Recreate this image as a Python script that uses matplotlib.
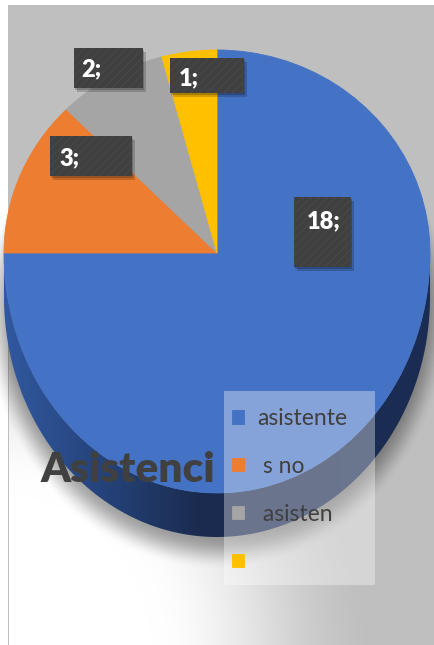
import numpy as np
import matplotlib
matplotlib.use('Agg')
import matplotlib.pyplot as plt
from matplotlib.patches import Rectangle, Polygon
from matplotlib.colors import to_rgb

# ---------------- data ----------------
categories = ['asistente', ' s no', ' asisten', '']
values = [18, 3, 2, 1]
colors = ['#4472c4', '#ed7d31', '#a5a5a5', '#ffc000']
value_labels = [f'{v};' for v in values]
title_text = 'Asistenci'

# ---------------- layout ----------------
W, H = 435, 645
cx, cy, R = 217, 253, 213          # pie centre / horizontal radius (px)
R_UP, R_DOWN, DEPTH = 203, 240, 44  # perspective of the 3-D pie
label_boxes = [(294, 197, 57, 70), (50, 136, 82, 40), (74, 48, 69, 40), (170, 58, 74, 35)]
label_text_pos = [(307, 221), (59, 158), (81, 69), (179, 78)]
legend_box = (224, 391, 151, 194)

plt.rcParams['font.family'] = ['Lato', 'DejaVu Sans']
plt.rcParams['hatch.linewidth'] = 0.7

fig = plt.figure(figsize=(W / 100, H / 100), dpi=100)
ax = fig.add_axes([0, 0, 1, 1])
ax.set_xlim(0, W)
ax.set_ylim(H, 0)
ax.axis('off')

# ---------------- background ----------------
yy, xx = np.mgrid[0:H, 0:W] + 0.5
d = np.hypot(xx, (yy - H))
t = np.clip((d - 150) / (380 - 150), 0, 1)
t = t * t * (3 - 2 * t)
bg = 255 - t * (255 - 191)
bg[:, 8] = np.minimum(bg[:, 8], 190)
bg[(xx < 8) | (yy < 5)] = 255
bg_rgb = np.dstack([bg, bg, bg]) / 255.0
ax.imshow(bg_rgb, extent=[0, W, H, 0], zorder=0, interpolation='bilinear')

# soft shadow of the pie
sx, sy = cx, cy + DEPTH + 9
yr = yy - sy
ry = np.where(yr < 0, R_UP, R_DOWN)
rn = np.hypot((xx - sx) / R, yr / ry)
s = np.clip((rn - 0.96) / 0.14, 0, 1)
s = 1 - s * s * (3 - 2 * s)
shadow = np.zeros((H, W, 4))
shadow[..., 3] = 0.36 * s
ax.imshow(shadow, extent=[0, W, H, 0], zorder=1, interpolation='bilinear')


def warp(v):
    v = np.array(v, dtype=float)
    r = v[:, 1] - cy
    v[:, 1] = cy + np.where(r < 0, r * R_UP / R, r * R_DOWN / R)
    return v

# ---------------- pie side (depth) ----------------
th = np.linspace(0, np.pi, 200)
top_edge = np.column_stack([cx + R * np.cos(th), cy + R_DOWN * np.sin(th)])
bot_edge = np.column_stack([cx + R * np.cos(th[::-1]), cy + DEPTH + R_DOWN * np.sin(th[::-1])])
side_poly = Polygon(np.vstack([top_edge, bot_edge]), closed=True, facecolor='none', edgecolor='none')
ax.add_patch(side_poly)
gx = np.array([0, 4, 120, 200, 435])
gc = np.array([to_rgb('#3159a0'), to_rgb('#3159a0'), to_rgb('#233f73'), to_rgb('#1b2b4f'), to_rgb('#1c2d54')])
xs = np.arange(W) + 0.5
grad = np.stack([np.interp(xs, gx, gc[:, k]) for k in range(3)], axis=-1)
grad = np.repeat(grad[None, :, :], H, axis=0)
im = ax.imshow(grad, extent=[0, W, H, 0], zorder=2, interpolation='bilinear')
im.set_clip_path(side_poly)

# ---------------- pie top face ----------------
wedges, _ = ax.pie(values, colors=colors, startangle=-90, counterclock=True,
                   center=(cx, cy), radius=R, frame=True,
                   wedgeprops=dict(linewidth=0))
faces = []
for w in wedges:
    verts = w.get_path().to_polygons()[0]
    fc = w.get_facecolor()
    p = Polygon(warp(verts), closed=True, facecolor=fc, edgecolor=fc, linewidth=0.6, zorder=3)
    w.remove()
    ax.add_patch(p)
    faces.append(p)
ax.set_aspect('auto')
ax.set_xlim(0, W)
ax.set_ylim(H, 0)

# ---------------- title ----------------
ax.text(41, 482, title_text, fontsize=30.5, fontweight='heavy', color='#404040',
        ha='left', va='baseline', zorder=6)

# ---------------- data labels ----------------
for (bx, by, bw, bh), (tx, ty), lab in zip(label_boxes, label_text_pos, value_labels):
    ax.add_patch(Rectangle((bx + 3, by + 4), bw, bh, facecolor='black', alpha=0.18,
                           edgecolor='none', zorder=6))
    ax.add_patch(Rectangle((bx + 1.5, by + 2), bw, bh, facecolor='black', alpha=0.2,
                           edgecolor='none', zorder=6))
    ax.add_patch(Rectangle((bx, by), bw, bh, facecolor='#404040', edgecolor='#494949',
                           hatch='////', linewidth=0, zorder=7))
    ax.text(tx, ty, lab, fontsize=17, fontweight='heavy', color='white',
            ha='left', va='center', zorder=8)

# ---------------- legend ----------------
lx, ly, lw_, lh = legend_box
ax.add_patch(Rectangle((lx, ly), lw_, lh, facecolor='white', alpha=0.35,
                       edgecolor='none', zorder=9))
fs = 16.5
fs_px = fs * 100 / 72
ax.legend(handles=faces, labels=categories, loc='upper left',
          bbox_to_anchor=(232 / W, 1 - 408 / H), bbox_transform=fig.transFigure,
          frameon=False, borderpad=0, borderaxespad=0, fontsize=fs,
          handlelength=12 / fs_px, handleheight=12 / fs_px, handletextpad=0.56,
          labelspacing=1.17, labelcolor='#404040').set_zorder(10)

fig.savefig('out.png', dpi=100)
